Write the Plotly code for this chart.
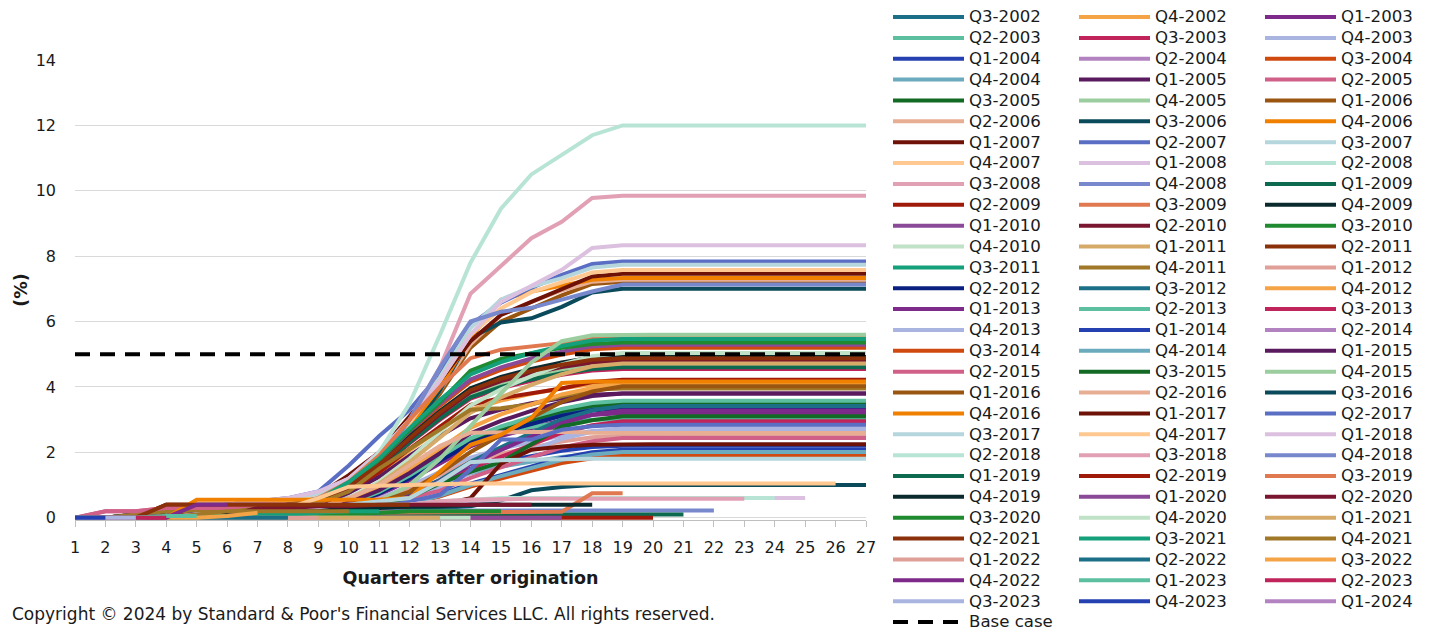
import plotly.graph_objects as go

quarters = [1, 2, 3, 4, 5, 6, 7, 8, 9, 10, 11, 12, 13, 14, 15, 16, 17, 18, 19, 20, 21, 22, 23, 24, 25, 26, 27]
y_ticks = [0, 2, 4, 6, 8, 10, 12, 14]

vintages = [
    "Q3-2002", "Q4-2002",
    "Q1-2003", "Q2-2003", "Q3-2003", "Q4-2003",
    "Q1-2004", "Q2-2004", "Q3-2004", "Q4-2004",
    "Q1-2005", "Q2-2005", "Q3-2005", "Q4-2005",
    "Q1-2006", "Q2-2006", "Q3-2006", "Q4-2006",
    "Q1-2007", "Q2-2007", "Q3-2007", "Q4-2007",
    "Q1-2008", "Q2-2008", "Q3-2008", "Q4-2008",
    "Q1-2009", "Q2-2009", "Q3-2009", "Q4-2009",
    "Q1-2010", "Q2-2010", "Q3-2010", "Q4-2010",
    "Q1-2011", "Q2-2011", "Q3-2011", "Q4-2011",
    "Q1-2012", "Q2-2012", "Q3-2012", "Q4-2012",
    "Q1-2013", "Q2-2013", "Q3-2013", "Q4-2013",
    "Q1-2014", "Q2-2014", "Q3-2014", "Q4-2014",
    "Q1-2015", "Q2-2015", "Q3-2015", "Q4-2015",
    "Q1-2016", "Q2-2016", "Q3-2016", "Q4-2016",
    "Q1-2017", "Q2-2017", "Q3-2017", "Q4-2017",
    "Q1-2018", "Q2-2018", "Q3-2018", "Q4-2018",
    "Q1-2019", "Q2-2019", "Q3-2019", "Q4-2019",
    "Q1-2020", "Q2-2020", "Q3-2020", "Q4-2020",
    "Q1-2021", "Q2-2021", "Q3-2021", "Q4-2021",
    "Q1-2022", "Q2-2022", "Q3-2022", "Q4-2022",
    "Q1-2023", "Q2-2023", "Q3-2023", "Q4-2023",
    "Q1-2024",
]

v2002 = [
    [0, 0, 0, 0.05, 0.1, 0.1, 0.15, 0.2, 0.21, 0.41, 0.76, 1.24, 1.79, 2.35, 2.69, 2.97, 3.21, 3.38, 3.45, 3.45, 3.45, 3.45, 3.45, 3.45, 3.45, 3.45, 3.45],
    [0, 0, 0.1, 0.2, 0.2, 0.3, 0.3, 0.4, 0.41, 0.82, 1.36, 2.06, 2.72, 3.30, 3.58, 3.79, 3.96, 4.08, 4.12, 4.12, 4.12, 4.12, 4.12, 4.12, 4.12, 4.12, 4.12],
]
v2003 = [
    [0, 0, 0, 0, 0, 0, 0, 0, 0.19, 0.38, 0.70, 1.15, 1.66, 2.18, 2.50, 2.75, 2.98, 3.14, 3.2, 3.2, 3.2, 3.2, 3.2, 3.2, 3.2, 3.2, 3.2],
    [0, 0, 0, 0.05, 0.1, 0.1, 0.15, 0.2, 0.30, 0.61, 1.0, 1.52, 2.0, 2.42, 2.64, 2.79, 2.91, 3.0, 3.03, 3.03, 3.03, 3.03, 3.03, 3.03, 3.03, 3.03, 3.03],
    [0, 0, 0.1, 0.2, 0.2, 0.3, 0.3, 0.4, 0.46, 0.91, 1.50, 2.28, 3.0, 3.64, 3.96, 4.19, 4.37, 4.50, 4.55, 4.55, 4.55, 4.55, 4.55, 4.55, 4.55, 4.55, 4.55],
    [0, 0, 0, 0, 0, 0, 0, 0, 0.16, 0.32, 0.59, 0.97, 1.40, 1.84, 2.11, 2.32, 2.51, 2.65, 2.7, 2.7, 2.7, 2.7, 2.7, 2.7, 2.7, 2.7, 2.7],
]
v2004 = [
    [0, 0, 0, 0, 0, 0, 0, 0, 0.13, 0.26, 0.48, 0.79, 1.14, 1.50, 1.72, 1.89, 2.05, 2.16, 2.2, 2.2, 2.2, 2.2, 2.2, 2.2, 2.2, 2.2, 2.2],
    [0, 0, 0, 0.05, 0.1, 0.1, 0.15, 0.2, 0.49, 0.97, 1.60, 2.43, 3.20, 3.88, 4.22, 4.46, 4.66, 4.80, 4.85, 4.85, 4.85, 4.85, 4.85, 4.85, 4.85, 4.85, 4.85],
    [0, 0, 0.1, 0.2, 0.2, 0.3, 0.3, 0.4, 0.52, 1.04, 1.72, 2.60, 3.43, 4.16, 4.52, 4.78, 4.99, 5.15, 5.2, 5.2, 5.2, 5.2, 5.2, 5.2, 5.2, 5.2, 5.2],
    [0, 0, 0, 0, 0, 0, 0, 0, 0.12, 0.24, 0.44, 0.72, 1.04, 1.36, 1.56, 1.72, 1.86, 1.96, 2.0, 2.0, 2.0, 2.0, 2.0, 2.0, 2.0, 2.0, 2.0],
]
v2005 = [
    [0, 0, 0, 0.05, 0.1, 0.1, 0.15, 0.2, 0.38, 0.76, 1.25, 1.90, 2.51, 3.04, 3.31, 3.50, 3.65, 3.76, 3.8, 3.8, 3.8, 3.8, 3.8, 3.8, 3.8, 3.8, 3.8],
    [0, 0.2, 0.2, 0.3, 0.3, 0.3, 0.4, 0.4, 0.47, 0.93, 1.53, 2.33, 3.07, 3.72, 4.05, 4.28, 4.46, 4.60, 4.65, 4.65, 4.65, 4.65, 4.65, 4.65, 4.65, 4.65, 4.65],
    [0, 0, 0, 0.05, 0.1, 0.1, 0.15, 0.2, 0.21, 0.42, 0.77, 1.26, 1.82, 2.38, 2.73, 3.01, 3.26, 3.43, 3.5, 3.5, 3.5, 3.5, 3.5, 3.5, 3.5, 3.5, 3.5],
    [0, 0, 0, 0.05, 0.1, 0.1, 0.15, 0.2, 0.47, 0.94, 1.55, 2.35, 3.10, 3.76, 4.09, 4.32, 4.51, 4.65, 4.7, 4.7, 4.7, 4.7, 4.7, 4.7, 4.7, 4.7, 4.7],
]
v2006 = [
    [0, 0, 0, 0.1, 0.2, 0.3, 0.4, 0.5, 0.6, 0.9, 1.5, 2.6, 3.8, 5.2, 6.0, 6.4, 6.8, 7.15, 7.22, 7.22, 7.22, 7.22, 7.22, 7.22, 7.22, 7.22, 7.22],
    [0, 0, 0, 0.1, 0.2, 0.3, 0.4, 0.5, 0.6, 0.9, 1.6, 2.7, 3.9, 5.3, 6.2, 6.6, 6.95, 7.22, 7.28, 7.28, 7.28, 7.28, 7.28, 7.28, 7.28, 7.28, 7.28],
    [0, 0, 0, 0.1, 0.1, 0.2, 0.3, 0.4, 0.5, 0.9, 1.6, 2.6, 3.9, 5.5, 5.97, 6.1, 6.45, 6.89, 7.0, 7.0, 7.0, 7.0, 7.0, 7.0, 7.0, 7.0, 7.0],
    [0, 0, 0, 0.1, 0.2, 0.3, 0.4, 0.5, 0.6, 1.0, 1.7, 2.8, 4.0, 5.5, 6.67, 6.92, 7.1, 7.28, 7.33, 7.33, 7.33, 7.33, 7.33, 7.33, 7.33, 7.33, 7.33],
]
v2007 = [
    [0, 0, 0, 0.1, 0.2, 0.3, 0.4, 0.5, 0.7, 1.3, 2.0, 3.1, 4.2, 5.4, 6.2, 6.6, 7.0, 7.38, 7.46, 7.46, 7.46, 7.46, 7.46, 7.46, 7.46, 7.46, 7.46],
    [0, 0, 0.1, 0.2, 0.3, 0.4, 0.5, 0.6, 0.8, 1.6, 2.5, 3.3, 4.4, 5.9, 6.58, 7.03, 7.43, 7.76, 7.84, 7.84, 7.84, 7.84, 7.84, 7.84, 7.84, 7.84, 7.84],
    [0, 0, 0, 0.1, 0.2, 0.3, 0.4, 0.5, 0.7, 1.2, 2.0, 3.0, 4.3, 5.8, 6.67, 7.07, 7.33, 7.65, 7.74, 7.74, 7.74, 7.74, 7.74, 7.74, 7.74, 7.74, 7.74],
    [0, 0, 0, 0.1, 0.2, 0.3, 0.4, 0.5, 0.6, 1.0, 1.8, 2.9, 4.2, 5.6, 6.4, 6.9, 7.2, 7.5, 7.58, 7.58, 7.58, 7.58, 7.58, 7.58, 7.58, 7.58, 7.58],
]
v2008 = [
    [0, 0, 0.1, 0.2, 0.3, 0.4, 0.5, 0.6, 0.8, 1.2, 2.0, 3.0, 4.2, 5.6, 6.6, 7.1, 7.58, 8.25, 8.33, 8.33, 8.33, 8.33, 8.33, 8.33, 8.33, 8.33, 8.33],
    [0, 0, 0, 0, 0.1, 0.2, 0.3, 0.4, 0.6, 1.0, 2.0, 3.5, 5.6, 7.8, 9.45, 10.5, 11.1, 11.7, 12.0, 12.0, 12.0, 12.0, 12.0, 12.0, 12.0, 12.0, 12.0],
    [0, 0, 0, 0, 0.1, 0.2, 0.3, 0.4, 0.6, 1.0, 1.8, 3.0, 4.6, 6.85, 7.7, 8.55, 9.05, 9.78, 9.85, 9.85, 9.85, 9.85, 9.85, 9.85, 9.85, 9.85, 9.85],
    [0, 0, 0, 0, 0.1, 0.2, 0.3, 0.4, 0.6, 1.0, 1.7, 3.0, 4.6, 6.0, 6.3, 6.42, 6.67, 6.92, 7.13, 7.13, 7.13, 7.13, 7.13, 7.13, 7.13, 7.13, 7.13],
]
v2009 = [
    [0, 0, 0.1, 0.2, 0.2, 0.3, 0.3, 0.4, 0.46, 0.92, 1.52, 2.30, 3.04, 3.68, 4.0, 4.23, 4.42, 4.55, 4.6, 4.6, 4.6, 4.6, 4.6, 4.6, 4.6, 4.6, 4.6],
    [0, 0, 0, 0.05, 0.1, 0.1, 0.15, 0.2, 0.42, 0.84, 1.39, 2.11, 2.79, 3.45, 3.66, 3.8, 3.95, 4.15, 4.22, 4.22, 4.22, 4.22, 4.22, 4.22, 4.22, 4.22, 4.22],
    [0, 0, 0, 0.05, 0.1, 0.1, 0.15, 0.2, 0.6, 1.1, 1.9, 3.0, 4.0, 4.88, 5.14, 5.24, 5.34, 5.5, 5.55, 5.55, 5.55, 5.55, 5.55, 5.55, 5.55, 5.55, 5.55],
    [0, 0, 0.1, 0.2, 0.2, 0.3, 0.3, 0.4, 0.50, 0.99, 1.63, 2.48, 3.27, 3.96, 4.31, 4.55, 4.75, 4.90, 4.95, 4.95, 4.95, 4.95, 4.95, 4.95, 4.95, 4.95, 4.95],
]
v2010 = [
    [0, 0, 0, 0.05, 0.1, 0.1, 0.15, 0.2, 0.53, 1.06, 1.75, 2.65, 3.49, 4.23, 4.60, 4.87, 5.08, 5.24, 5.29, 5.29, 5.29, 5.29, 5.29, 5.29, 5.29, 5.29, 5.29],
    [0, 0, 0, 0.4, 0.4, 0.4, 0.4, 0.4, 0.48, 0.96, 1.58, 2.40, 3.17, 3.84, 4.18, 4.42, 4.61, 4.75, 4.8, 4.8, 4.8, 4.8, 4.8, 4.8, 4.8, 4.8, 4.8],
    [0, 0, 0, 0.05, 0.1, 0.1, 0.15, 0.2, 0.54, 1.07, 1.77, 2.68, 3.54, 4.5, 4.86, 5.03, 5.2, 5.31, 5.36, 5.36, 5.36, 5.36, 5.36, 5.36, 5.36, 5.36, 5.36],
    [0, 0, 0, 0, 0, 0, 0, 0, 0.30, 0.60, 1.11, 1.81, 2.62, 3.43, 3.93, 4.33, 4.69, 4.94, 5.04, 5.04, 5.04, 5.04, 5.04, 5.04, 5.04, 5.04, 5.04],
]
v2011 = [
    [0, 0, 0, 0.05, 0.1, 0.1, 0.15, 0.2, 0.28, 0.57, 1.04, 1.70, 2.45, 3.21, 3.68, 4.06, 4.39, 4.63, 4.72, 4.72, 4.72, 4.72, 4.72, 4.72, 4.72, 4.72, 4.72],
    [0, 0, 0, 0.4, 0.4, 0.4, 0.4, 0.4, 0.49, 0.98, 1.61, 2.44, 3.22, 3.90, 4.25, 4.49, 4.68, 4.83, 4.88, 4.88, 4.88, 4.88, 4.88, 4.88, 4.88, 4.88, 4.88],
    [0, 0, 0, 0.05, 0.1, 0.1, 0.15, 0.2, 0.55, 1.09, 1.81, 2.74, 3.61, 4.38, 4.76, 5.03, 5.25, 5.42, 5.47, 5.47, 5.47, 5.47, 5.47, 5.47, 5.47, 5.47, 5.47],
    [0, 0, 0.1, 0.2, 0.2, 0.3, 0.3, 0.4, 0.45, 0.8, 1.5, 2.1, 2.69, 3.3, 3.35, 3.46, 3.71, 3.92, 3.95, 3.95, 3.95, 3.95, 3.95, 3.95, 3.95, 3.95, 3.95],
]
v2012 = [
    [0, 0, 0, 0, 0, 0, 0, 0, 0.15, 0.30, 0.55, 0.90, 1.31, 1.71, 1.96, 2.16, 2.33, 2.46, 2.51, 2.51, 2.51, 2.51, 2.51, 2.51, 2.51, 2.51, 2.51],
    [0, 0, 0, 0.05, 0.1, 0.1, 0.15, 0.2, 0.21, 0.40, 0.74, 1.21, 1.74, 2.28, 2.61, 2.88, 3.12, 3.28, 3.35, 3.35, 3.35, 3.35, 3.35, 3.35, 3.35, 3.35, 3.35],
    [0, 0, 0, 0, 0, 0, 0, 0, 0.14, 0.24, 0.41, 0.68, 1.16, 1.71, 2.15, 2.60, 3.01, 3.28, 3.42, 3.42, 3.42, 3.42, 3.42, 3.42, 3.42, 3.42, 3.42],
    [0, 0, 0, 0, 0, 0, 0, 0, 0.24, 0.49, 0.89, 1.46, 2.11, 2.75, 3.16, 3.48, 3.77, 3.97, 4.05, 4.05, 4.05, 4.05, 4.05, 4.05, 4.05, 4.05, 4.05],
]
v2013 = [
    [0, 0, 0, 0.05, 0.1, 0.1, 0.15, 0.2, 0.2, 0.25, 0.39, 0.66, 1.12, 1.64, 2.07, 2.49, 2.89, 3.15, 3.28, 3.28, 3.28, 3.28, 3.28, 3.28, 3.28, 3.28, 3.28],
    [0, 0, 0, 0, 0, 0, 0, 0, 0.21, 0.43, 0.79, 1.29, 1.86, 2.43, 2.79, 3.08, 3.33, 3.51, 3.58, 3.58, 3.58, 3.58, 3.58, 3.58, 3.58, 3.58, 3.58],
    [0, 0, 0, 0, 0, 0, 0, 0, 0.12, 0.21, 0.35, 0.59, 1.0, 1.48, 1.86, 2.24, 2.60, 2.83, 2.95, 2.95, 2.95, 2.95, 2.95, 2.95, 2.95, 2.95, 2.95],
    [0, 0, 0, 0.05, 0.1, 0.1, 0.15, 0.2, 0.2, 0.22, 0.33, 0.55, 0.93, 1.37, 1.73, 2.08, 2.41, 2.63, 2.74, 2.74, 2.74, 2.74, 2.74, 2.74, 2.74, 2.74, 2.74],
]
v2014 = [
    [0, 0, 0, 0, 0, 0, 0, 0, 0.08, 0.15, 0.25, 0.42, 0.71, 1.04, 1.31, 1.58, 1.83, 2.0, 2.08, 2.08, 2.08, 2.08, 2.08, 2.08, 2.08, 2.08, 2.08],
    [0, 0, 0, 0, 0, 0, 0, 0, 0.08, 0.14, 0.23, 0.39, 0.66, 0.98, 1.23, 1.48, 1.72, 1.87, 1.95, 1.95, 1.95, 1.95, 1.95, 1.95, 1.95, 1.95, 1.95],
    [0, 0, 0, 0, 0, 0, 0, 0, 0.08, 0.13, 0.23, 0.38, 0.65, 0.95, 1.20, 1.44, 1.67, 1.82, 1.9, 1.9, 1.9, 1.9, 1.9, 1.9, 1.9, 1.9, 1.9],
    [0, 0, 0, 0.05, 0.1, 0.1, 0.15, 0.2, 0.2, 0.2, 0.24, 0.4, 0.68, 1.0, 1.27, 1.53, 1.77, 1.93, 2.01, 2.01, 2.01, 2.01, 2.01, 2.01, 2.01, 2.01, 2.01],
]
v2015 = [
    [0, 0, 0, 0.05, 0.1, 0.1, 0.15, 0.2, 0.23, 0.46, 0.84, 1.37, 1.98, 2.58, 2.96, 3.27, 3.53, 3.72, 3.8, 3.8, 3.8, 3.8, 3.8, 3.8, 3.8, 3.8, 3.8],
    [0, 0.2, 0.2, 0.3, 0.3, 0.3, 0.4, 0.4, 0.4, 0.4, 0.45, 0.6, 0.83, 1.22, 1.54, 1.85, 2.15, 2.34, 2.44, 2.44, 2.44, 2.44, 2.44, 2.44, 2.44, 2.44, 2.44],
    [0, 0, 0, 0, 0, 0, 0, 0, 0.12, 0.22, 0.37, 0.62, 1.05, 1.4, 1.7, 2.23, 2.79, 2.98, 3.1, 3.1, 3.1, 3.1, 3.1, 3.1, 3.1, 3.1, 3.1],
    [0, 0, 0, 0, 0, 0, 0, 0, 0.1, 0.2, 0.5, 1.0, 1.8, 2.8, 3.8, 4.75, 5.4, 5.58, 5.6, 5.6, 5.6, 5.6, 5.6, 5.6, 5.6, 5.6, 5.6],
]
v2016 = [
    [0, 0, 0, 0.05, 0.1, 0.1, 0.15, 0.2, 0.2, 0.28, 0.48, 0.80, 1.37, 2.01, 2.53, 3.06, 3.54, 3.86, 4.02, 4.02, 4.02, 4.02, 4.02, 4.02, 4.02, 4.02, 4.02],
    [0, 0, 0, 0, 0, 0, 0, 0, 0.3, 0.6, 1.0, 1.6, 2.2, 2.6, 2.62, 2.63, 2.63, 2.6, 2.59, 2.59, 2.59, 2.59, 2.59, 2.59, 2.59, 2.59, 2.59],
    [0, 0, 0, 0, 0, 0.1, 0.1, 0.1, 0.1, 0.15, 0.2, 0.25, 0.3, 0.35, 0.53, 0.84, 0.94, 1.0, 1.0, 1.0, 1.0, 1.0, 1.0, 1.0, 1.0, 1.0, 1.0],
    [0, 0, 0, 0, 0.55, 0.55, 0.55, 0.55, 0.55, 0.55, 0.55, 0.6, 1.4, 2.23, 2.54, 3.05, 4.12, 4.17, 4.17, 4.17, 4.17, 4.17, 4.17, 4.17, 4.17, 4.17, 4.17],
]
v2017 = [
    [0, 0, 0, 0, 0, 0.1, 0.2, 0.3, 0.3, 0.3, 0.3, 0.35, 0.4, 0.6, 1.65, 2.08, 2.18, 2.23, 2.25, 2.25, 2.25, 2.25, 2.25, 2.25, 2.25, 2.25, 2.25],
    [0, 0, 0, 0, 0.1, 0.1, 0.2, 0.2, 0.2, 0.25, 0.3, 0.5, 0.7, 1.47, 2.39, 2.39, 2.69, 2.8, 2.84, 2.84, 2.84, 2.84, 2.84, 2.84, 2.84, 2.84, 2.84],
    [0, 0, 0, 0, 0.1, 0.1, 0.2, 0.2, 0.3, 0.4, 0.5, 0.6, 1.1, 1.7, 1.76, 1.78, 1.8, 1.8, 1.8, 1.8, 1.8, 1.8, 1.8, 1.8, 1.8, 1.8, 1.8],
    [0, 0, 0, 0, 0, 0.1, 0.2, 0.3, 0.6, 0.95, 0.98, 1.0, 1.05, 1.05, 1.05, 1.05, 1.05, 1.05, 1.05, 1.05, 1.05, 1.05, 1.05, 1.05, 1.05, 1.05],
]
v2018 = [
    [0, 0, 0, 0, 0.1, 0.1, 0.2, 0.2, 0.3, 0.3, 0.4, 0.4, 0.5, 0.5, 0.55, 0.6, 0.6, 0.6, 0.6, 0.6, 0.6, 0.6, 0.6, 0.6, 0.6],
    [0, 0, 0, 0, 0, 0.1, 0.1, 0.2, 0.2, 0.3, 0.4, 0.4, 0.5, 0.55, 0.6, 0.6, 0.6, 0.6, 0.6, 0.6, 0.6, 0.6, 0.6, 0.6],
    [0, 0, 0, 0, 0, 0, 0.1, 0.1, 0.2, 0.2, 0.3, 0.4, 0.5, 0.55, 0.58, 0.58, 0.58, 0.58, 0.58, 0.58, 0.58, 0.58, 0.58],
    [0, 0, 0, 0, 0, 0, 0.05, 0.1, 0.1, 0.15, 0.2, 0.2, 0.22, 0.22, 0.22, 0.22, 0.22, 0.22, 0.22, 0.22, 0.22, 0.22],
]
v2019 = [
    [0, 0, 0, 0, 0, 0, 0, 0.05, 0.05, 0.1, 0.1, 0.1, 0.1, 0.1, 0.1, 0.1, 0.1, 0.1, 0.1, 0.1, 0.1],
    [0, 0, 0, 0, 0, 0, 0, 0, 0, 0, 0, 0, 0, 0, 0, 0, 0, 0, 0, 0],
    [0, 0, 0, 0, 0, 0, 0.05, 0.1, 0.15, 0.15, 0.15, 0.15, 0.15, 0.15, 0.15, 0.15, 0.18, 0.75, 0.75],
    [0, 0, 0, 0, 0, 0.1, 0.1, 0.2, 0.2, 0.3, 0.3, 0.35, 0.35, 0.4, 0.4, 0.4, 0.4, 0.4],
]
v2020 = [
    [0, 0, 0, 0, 0, 0, 0, 0, 0, 0, 0, 0, 0, 0, 0, 0, 0],
    [0, 0, 0, 0, 0, 0.05, 0.3, 0.3, 0.35, 0.35, 0.4, 0.4, 0.4, 0.4, 0.4, 0.4],
    [0, 0, 0, 0, 0, 0, 0, 0.05, 0.1, 0.1, 0.15, 0.2, 0.2, 0.2, 0.2],
    [0, 0, 0, 0, 0, 0, 0, 0, 0, 0, 0, 0, 0, 0],
]
v2021 = [
    [0, 0, 0, 0, 0, 0, 0, 0, 0, 0, 0, 0, 0],
    [0, 0, 0, 0.4, 0.4, 0.4, 0.4, 0.4, 0.4, 0.4, 0.4, 0.4],
    [0, 0, 0, 0, 0.05, 0.05, 0.1, 0.1, 0.15, 0.2, 0.2],
    [0, 0, 0, 0, 0.1, 0.2, 0.2, 0.2, 0.2, 0.2],
]
v2022 = [
    [0, 0, 0, 0, 0, 0, 0, 0, 0],
    [0, 0, 0, 0, 0, 0, 0, 0],
    [0, 0, 0, 0, 0, 0.05, 0.15],
    [0, 0, 0, 0, 0.4, 0.4],
]
v2023 = [
    [0, 0, 0, 0.05, 0.05],
    [0, 0, 0, 0],
    [0, 0, 0],
    [0, 0],
]
v2024 = [
    [0],
]

base_case = [5, 5, 5, 5, 5, 5, 5, 5, 5, 5, 5, 5, 5, 5, 5, 5, 5, 5, 5, 5, 5, 5, 5, 5, 5, 5, 5]

palette = [
    "#1b6f86", "#f4a446", "#7d2a8a", "#5bbfa0", "#c0245a", "#aab4e0", "#2540b0", "#b283c0",
    "#d04a10", "#6cabbd", "#5a1a5e", "#d06088", "#136a25", "#9ccd9e", "#9a5510", "#e8ae94",
    "#0a4a5a", "#f08000", "#6e1208", "#5a6ec4", "#b5d6dd", "#fec890", "#dcc0e0", "#b8e4d6",
    "#e2a0b5", "#7788cc", "#0e6a4e", "#a01a0a", "#e07850", "#0a2a2e", "#8a4a98", "#7a1630",
    "#1f8a30", "#c0e2c6", "#d6aa68", "#8a300a", "#14a07a", "#a07828", "#e0a098", "#0a2080",
]

series = (v2002 + v2003 + v2004 + v2005 + v2006 + v2007 + v2008 + v2009 + v2010 + v2011
          + v2012 + v2013 + v2014 + v2015 + v2016 + v2017 + v2018 + v2019 + v2020
          + v2021 + v2022 + v2023 + v2024)
colors = palette + palette[:39] + palette[:8]

FONT = "DejaVu Sans"
TEXT = "#1a1a1a"
LEG_TXT = 16.6
LW = 4

fig = go.Figure()
legend_ids = ["legend", "legend2", "legend3"]
for i, (label, vals) in enumerate(zip(vintages, series)):
    fig.add_trace(go.Scatter(
        x=quarters[:len(vals)], y=vals, mode="lines",
        name="<span style='font-size:%spx'>%s</span>" % (LEG_TXT, label),
        line=dict(color=colors[i], width=LW),
        legend=legend_ids[i % 3],
    ))
fig.add_trace(go.Scatter(
    x=quarters, y=base_case, mode="lines",
    name="<span style='font-size:%spx'>%s</span>" % (LEG_TXT, "Base case"),
    line=dict(color="#000000", width=LW, dash="15px,10px"),
    legend="legend",
))

# page has an 8px body margin: the figure is drawn 8px right/down
W, H = 1421, 625
M_L, M_R, M_T, M_B = 67, 563, 52, 113
PLOT_H = H - M_T - M_B
leg_top_px = -6.4  # legend box top, in figure pixels
leg_common = dict(
    orientation="v", xref="container", yref="paper",
    xanchor="left", yanchor="top", y=1 + (M_T - leg_top_px) / PLOT_H,
    font=dict(family=FONT, size=13.74, color=TEXT),
    itemwidth=71, bgcolor="rgba(0,0,0,0)", borderwidth=0,
    traceorder="normal", maxheight=660,
)

fig.update_layout(
    width=W, height=H,
    margin=dict(l=M_L, r=M_R, t=M_T, b=M_B, autoexpand=False),
    paper_bgcolor="white", plot_bgcolor="white",
    font=dict(family=FONT, color=TEXT, size=16),
    showlegend=True,
    legend=dict(x=880.0 / W, **leg_common),
    legend2=dict(x=1066.0 / W, **leg_common),
    legend3=dict(x=1252.0 / W, **leg_common),
    xaxis=dict(
        range=[1, 27], tickmode="array", tickvals=quarters,
        ticktext=[str(q) for q in quarters],
        showgrid=False, zeroline=False,
        showline=True, linecolor="#bfbfbf", linewidth=1,
        ticks="outside", ticklen=6, tickcolor="#bfbfbf", tickwidth=1,
        tickfont=dict(family=FONT, size=16, color=TEXT),
        ticklabelstandoff=7,
        title=dict(text="Quarters after origination",
                   font=dict(family=FONT, size=17.5, color=TEXT, weight=700),
                   standoff=15),
    ),
    yaxis=dict(
        range=[-0.07, 14], tickmode="array", tickvals=y_ticks,
        showgrid=True, gridcolor="#d9d9d9", gridwidth=1.3,
        zeroline=False, showline=False, ticks="",
        tickfont=dict(family=FONT, size=16, color=TEXT),
        ticklabelstandoff=18,
        title=dict(text="(%)", font=dict(family=FONT, size=17.5, color=TEXT, weight=700),
                   standoff=3),
    ),
    annotations=[dict(
        text="Copyright © 2024 by Standard & Poor's Financial Services LLC. All rights reserved.",
        xref="paper", yref="paper", x=(2 - M_L) / 791, y=(512 - 606) / PLOT_H,
        xanchor="left", yanchor="middle", showarrow=False,
        font=dict(family=FONT, size=17, color=TEXT),
    )],
)

fig.write_html("out.html")
